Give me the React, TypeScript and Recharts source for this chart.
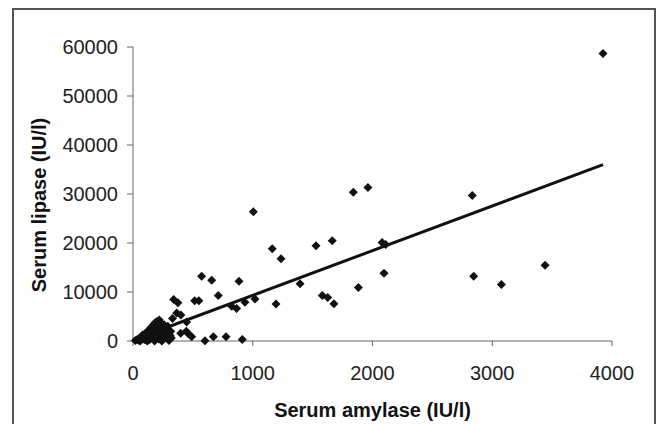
import { ScatterChart, Scatter, XAxis, YAxis } from 'recharts';

// serum amylase vs serum lipase (IU/l)
const spreadPoints: [number, number][] = [
  [3925, 58670], [1840, 30370], [1962, 31330], [2833, 29700], [1005, 26370],
  [1528, 19430], [1664, 20450], [2080, 20100], [2110, 19700], [1163, 18810],
  [1236, 16770], [1395, 11700], [2096, 13840], [1882, 10920], [1581, 9290],
  [1626, 8900], [1678, 7590], [2845, 13220], [3076, 11530], [3441, 15470],
  [885, 12180], [935, 7900], [1019, 8560], [1194, 7550], [913, 300],
  [573, 13220], [657, 12410], [340, 8450], [375, 7800], [515, 8200],
  [550, 8200], [712, 9290], [824, 7100], [865, 6650], [365, 5700],
  [330, 4600], [400, 5300], [448, 3900], [445, 2000], [398, 1600],
  [462, 1500], [490, 860], [601, 50], [671, 860], [777, 860],
];

// dense cluster near the origin
const clusterPoints: [number, number][] = [
  [20, 100], [35, 300], [45, 150], [50, 500], [60, 200], [70, 800], [75, 400],
  [80, 1200], [90, 600], [95, 300], [100, 1500], [105, 900], [110, 200],
  [115, 1800], [120, 1100], [125, 600], [130, 2200], [135, 1400], [140, 300],
  [145, 2600], [150, 1900], [155, 900], [160, 2900], [165, 500], [170, 3300],
  [175, 2100], [180, 1300], [185, 3700], [190, 700], [195, 2700], [200, 4000],
  [205, 1700], [210, 3100], [215, 400], [220, 4300], [225, 2400], [230, 1000],
  [235, 3600], [240, 1900], [245, 200], [250, 2900], [255, 1200], [260, 600],
  [270, 2200], [280, 1500], [290, 800], [300, 400], [310, 1100], [60, 0],
  [120, 0], [180, 0], [240, 0], [300, 100], [320, 600], [260, 3300],
  [280, 2500], [300, 1600], [315, 2000], [290, 3000],
];

// linear trend line end points
const trendPoints: [number, number][] = [[0, 200], [3925, 36000]];

const xTicks = [0, 1000, 2000, 3000, 4000];
const yTicks = [0, 10000, 20000, 30000, 40000, 50000, 60000];

const toData = (pts: [number, number][]) => pts.map(([x, y]) => ({ x, y }));

const FONT = '"Liberation Sans", Arial, sans-serif';

const Diamond = (props: any) => {
  const { cx, cy } = props;
  if (cx == null || cy == null) return <g />;
  const r = 4.5;
  return (
    <polygon
      points={`${cx},${cy - r} ${cx + r},${cy} ${cx},${cy + r} ${cx - r},${cy}`}
      fill="#111"
    />
  );
};

export default function App() {
  const points = toData([...clusterPoints, ...spreadPoints]);
  const trend = toData(trendPoints);

  return (
    <div style={{ position: 'absolute', left: 0, top: 0, width: 657, height: 424, background: '#fff', overflow: 'hidden' }}>
      {/* outer frame */}
      <div style={{ position: 'absolute', left: 12, top: 8, width: 640, height: 440, border: '2px solid #555' }} />
      <div style={{ position: 'absolute', left: 0, top: 0 }}>
        <ScatterChart width={657} height={424} margin={{ top: 47, right: 45, bottom: 3, left: 0 }}>
          <XAxis
            type="number"
            dataKey="x"
            domain={[0, 4000]}
            ticks={xTicks}
            height={80}
            stroke="#666"
            tickSize={5}
            tickMargin={20}
            tick={{ fontSize: 20, fill: '#222', fontFamily: FONT }}
            label={{ value: 'Serum amylase (IU/l)', position: 'insideBottom', offset: 4, style: { fontSize: 20, fontWeight: 'bold', fill: '#111', fontFamily: FONT } }}
          />
          <YAxis
            type="number"
            dataKey="y"
            domain={[0, 60000]}
            ticks={yTicks}
            width={133}
            stroke="#666"
            tickSize={6}
            tickMargin={9}
            tick={{ fontSize: 20, fill: '#222', fontFamily: FONT }}
            label={{ value: 'Serum lipase (IU/l)', angle: -90, position: 'insideLeft', offset: 39, dy: 11, style: { textAnchor: 'middle', fontSize: 20, fontWeight: 'bold', fill: '#111', fontFamily: FONT } }}
          />
          <Scatter data={points} shape={Diamond} isAnimationActive={false} />
          <Scatter
            data={trend}
            line={{ stroke: '#111', strokeWidth: 3 }}
            shape={() => <g />}
            isAnimationActive={false}
          />
        </ScatterChart>
      </div>
    </div>
  );
}
